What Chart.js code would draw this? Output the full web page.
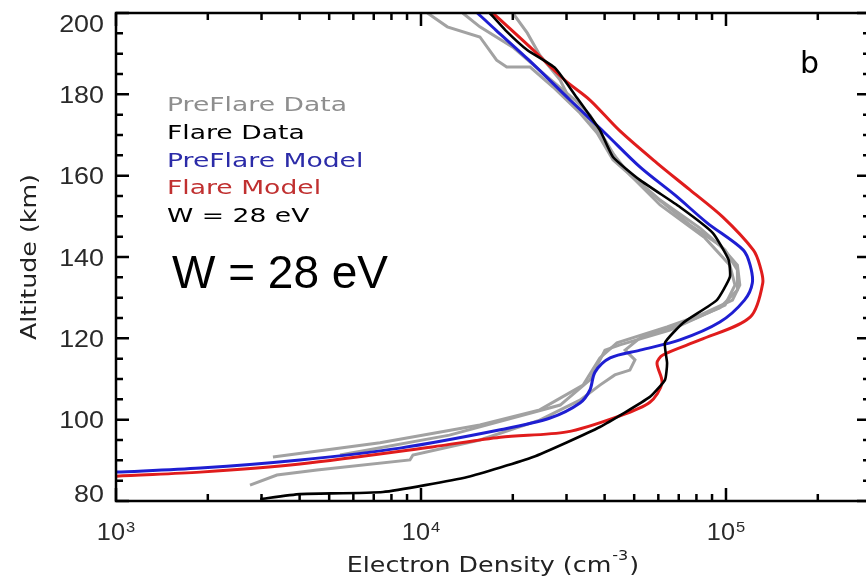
<!DOCTYPE html>
<html>
<head>
<meta charset="utf-8">
<script src="https://cdn.jsdelivr.net/npm/chart.js@4.4.1/dist/chart.umd.min.js"></script>
<style>
  html, body { margin: 0; padding: 0; background: #fff; overflow: hidden; }
  #wrap { width: 874px; height: 580px; }
</style>
</head>
<body>
<div id="wrap"><canvas id="chart" width="874" height="580"></canvas></div>
<script>
// electron density (cm^-3) vs altitude (km)
const preFlareModelDensity = [886, 1000, 1890, 4010, 8530, 18200, 26500, 33200, 35800, 37200, 41700, 52300, 70600, 95500, 115000, 122000, 120000, 114000, 86700, 68100, 52300, 40100, 30800, 22600, 17600, 15300, 14500];
const preFlareModelAltitude = [86.9, 87.1, 88.1, 90.1, 93.0, 97.5, 100.4, 104.1, 107.3, 111.7, 115.2, 117.1, 119.6, 124.0, 129.4, 133.6, 138.0, 141.7, 148.4, 155.2, 162.1, 170.5, 178.6, 188.4, 195.8, 200.0, 201.5];

const flareModelDensity = [886, 1000, 1890, 4010, 10900, 18200, 30100, 43900, 56300, 61700, 59400, 62100, 82200, 120000, 132000, 129000, 123000, 97700, 76200, 59400, 44900, 35800, 29600, 22800, 17200, 16200];
const flareModelAltitude = [85.7, 86.1, 87.1, 89.1, 93.3, 95.7, 97.0, 100.7, 104.3, 109.0, 113.9, 115.9, 119.6, 125.2, 133.6, 138.0, 141.7, 149.8, 156.5, 163.1, 171.0, 178.6, 183.5, 191.6, 200.0, 201.7];

const flareDataDensity = [2970, 4010, 7500, 14200, 23300, 38600, 56300, 63100, 64100, 63100, 72300, 93300, 103000, 102000, 90600, 70600, 52300, 42600, 38600, 32000, 27500, 22300, 18900, 16800];
const flareDataAltitude = [80.5, 81.7, 82.2, 85.9, 90.8, 98.2, 105.6, 109.8, 113.9, 118.9, 123.8, 129.4, 135.1, 139.3, 145.9, 152.3, 158.9, 164.6, 171.2, 179.8, 186.5, 190.9, 195.8, 200.0];

const preFlareData1Density = [3270, 7340, 15600, 24500, 34000, 38600, 43900, 64100, 82200, 105000, 111000, 109000, 95500, 76200, 55100, 42600, 37800, 33200, 27100, 22800, 19100, 17700, 15600, 12200, 10500];
const preFlareData1Altitude = [90.8, 94.3, 98.7, 102.4, 108.5, 115.2, 118.9, 122.8, 125.7, 129.4, 133.1, 138.0, 142.9, 147.9, 156.5, 163.9, 170.5, 175.4, 181.8, 186.7, 186.7, 188.4, 194.1, 196.6, 200.0];

const preFlareData2Density = [2750, 3370, 4560, 9200, 9410, 15600, 24500, 33200, 38600, 43200, 48400, 50300, 46700, 52300, 70600, 95500, 109000, 109000, 99300, 82200, 60800, 44900, 40100, 35800, 32000, 25500, 20000, 15600, 13700];
const preFlareData2Altitude = [83.9, 86.4, 87.6, 90.1, 91.3, 95.0, 99.9, 104.8, 108.5, 111.0, 112.2, 114.7, 117.1, 120.1, 123.3, 127.5, 131.9, 136.8, 141.7, 147.1, 154.0, 162.6, 168.8, 174.9, 178.6, 184.8, 191.6, 196.6, 200.0];

const preFlareData3Density = [5430, 12400, 28600, 35800, 40100, 44900, 65500, 99300, 107000, 103000, 85300, 60800, 48400, 41700, 35800, 30800, 28600, 24500, 22300, 20000];
const preFlareData3Altitude = [91.3, 96.2, 103.6, 109.8, 117.1, 118.4, 122.0, 128.2, 133.1, 138.0, 144.7, 152.8, 160.2, 166.3, 173.7, 178.6, 183.5, 189.7, 195.1, 200.0];

// axes
const xMin = 1000, xMax = 296600;
const yMin = 80, yMax = 200;
const xMajorTicks = [1e3, 1e4, 1e5];
const xTickExponents = ['3', '4', '5'];
const yMajorTicks = [80, 100, 120, 140, 160, 180, 200];
const yMinorStep = 5;

// in-plot annotation text
const legendLabels = ['PreFlare Data', 'Flare Data', 'PreFlare Model', 'Flare Model', 'W = 28 eV'];
const legendColors = ['#8e8e8e', '#000000', '#2b2ba8', '#c03030', '#000000'];

const GRAY = '#a2a2a2', BLACK = '#000000', BLUE = '#1e1ed2', RED = '#e01c1c';

function toPoints(xs, ys) {
    return xs.map((x, i) => ({ x: x, y: ys[i] }));
}

function drawText(ctx, text, x, y, font, color, align, scaleX) {
    ctx.save();
    ctx.font = font;
    ctx.fillStyle = color;
    ctx.textAlign = 'left';
    ctx.textBaseline = 'alphabetic';
    const w = ctx.measureText(text).width * scaleX;
    let x0 = x;
    if (align === 'right') x0 = x - w;
    else if (align === 'center') x0 = x - w / 2;
    ctx.translate(x0, y);
    ctx.scale(scaleX, 1);
    ctx.fillText(text, 0, 0);
    ctx.restore();
    return w;
}

function textWidth(ctx, text, font, scaleX) {
    ctx.save();
    ctx.font = font;
    const w = ctx.measureText(text).width * scaleX;
    ctx.restore();
    return w;
}

const framePlugin = {
    id: 'frame',
    afterDraw(chart) {
        const ctx = chart.ctx;
        const a = chart.chartArea;
        const xs = chart.scales.x, ys = chart.scales.y;

        ctx.save();
        ctx.strokeStyle = '#000';
        ctx.lineWidth = 2.5;
        ctx.strokeRect(a.left, a.top, a.right - a.left, a.bottom - a.top);

        ctx.beginPath();
        // y ticks, left and right
        for (let v = yMin; v <= yMax; v += yMinorStep) {
            const py = ys.getPixelForValue(v);
            const len = (v % 20 === 0) ? 13 : 7;
            ctx.moveTo(a.left, py); ctx.lineTo(a.left + len, py);
            ctx.moveTo(a.right, py); ctx.lineTo(a.right - len, py);
        }
        // x ticks, bottom and top
        for (let d = 1e3; d <= xMax; d *= 10) {
            for (let m = 1; m <= 9; m++) {
                const v = d * m;
                if (v < xMin || v > xMax) continue;
                const px = xs.getPixelForValue(v);
                const len = (m === 1) ? 13 : 7;
                ctx.moveTo(px, a.bottom); ctx.lineTo(px, a.bottom - len);
                ctx.moveTo(px, a.top); ctx.lineTo(px, a.top + len);
            }
        }
        ctx.stroke();
        ctx.restore();

        const tickFont = '24px "Liberation Sans", Arial, sans-serif';
        yMajorTicks.forEach(v => {
            let cy = ys.getPixelForValue(v);
            cy = Math.min(Math.max(cy, 23), 493);
            drawText(ctx, String(v), 104, cy + 8.5, tickFont, '#2a2a2a', 'right', 1.12);
        });

        const baseFont = '23px "Liberation Sans", Arial, sans-serif';
        const expFont = '15px "Liberation Sans", Arial, sans-serif';
        xMajorTicks.forEach((v, i) => {
            const px = xs.getPixelForValue(v);
            const wb = textWidth(ctx, '10', baseFont, 1.1);
            const we = textWidth(ctx, xTickExponents[i], expFont, 1.1);
            const x0 = px - (wb + we + 1) / 2;
            drawText(ctx, '10', x0, 540, baseFont, '#2a2a2a', 'left', 1.1);
            drawText(ctx, xTickExponents[i], x0 + wb + 1, 532, expFont, '#2a2a2a', 'left', 1.1);
        });

        // axis titles
        const titleFont = '22px "DejaVu Sans", sans-serif';
        const tScale = 1.15;
        const t1 = 'Electron Density (cm', t2 = '-3', t3 = ')';
        const supFont = '14px "DejaVu Sans", sans-serif';
        const w1 = textWidth(ctx, t1, titleFont, tScale);
        const w2 = textWidth(ctx, t2, supFont, tScale);
        const w3 = textWidth(ctx, t3, titleFont, tScale);
        let tx = 492 - (w1 + w2 + w3) / 2;
        drawText(ctx, t1, tx, 572, titleFont, '#222', 'left', tScale);
        drawText(ctx, t2, tx + w1 + 1, 560, supFont, '#222', 'left', tScale);
        drawText(ctx, t3, tx + w1 + w2 + 2, 572, titleFont, '#222', 'left', tScale);

        ctx.save();
        ctx.translate(36, (a.top + a.bottom) / 2);
        ctx.rotate(-Math.PI / 2);
        drawText(ctx, 'Altitude (km)', 0, 0, titleFont, '#222', 'center', tScale);
        ctx.restore();

        // annotations inside the plot
        const legFont = '20px "DejaVu Sans", sans-serif';
        legendLabels.forEach((t, i) => {
            drawText(ctx, t, 167, 111 + i * 27.8, legFont, legendColors[i], 'left', 1.33);
        });
        drawText(ctx, 'W = 28 eV', 172, 288, '46px "Liberation Sans", Arial, sans-serif', '#000', 'left', 1.0);
        drawText(ctx, 'b', 800, 73, '30px "DejaVu Sans", sans-serif', '#000', 'left', 1.0);
    }
};

function lineSet(label, xs, ys, color, width, tension, order) {
    return {
        label: label,
        data: toPoints(xs, ys),
        showLine: true,
        borderColor: color,
        backgroundColor: color,
        borderWidth: width,
        pointRadius: 0,
        tension: tension,
        order: order
    };
}

new Chart(document.getElementById('chart'), {
    type: 'scatter',
    data: {
        datasets: [
            lineSet('PreFlare Data', preFlareData1Density, preFlareData1Altitude, GRAY, 3, 0, 5),
            lineSet('PreFlare Data 2', preFlareData2Density, preFlareData2Altitude, GRAY, 3, 0, 5),
            lineSet('PreFlare Data 3', preFlareData3Density, preFlareData3Altitude, GRAY, 3, 0, 5),
            lineSet('PreFlare Model', preFlareModelDensity, preFlareModelAltitude, BLUE, 3, 0.3, 3),
            lineSet('Flare Model', flareModelDensity, flareModelAltitude, RED, 3, 0.3, 2),
            lineSet('Flare Data', flareDataDensity, flareDataAltitude, BLACK, 2.6, 0.15, 1)
        ]
    },
    options: {
        responsive: false,
        animation: false,
        layout: { padding: { left: 0, right: 4, top: 13, bottom: 0 } },
        scales: {
            x: {
                type: 'logarithmic',
                min: xMin,
                max: xMax,
                grid: { display: false },
                border: { display: false },
                ticks: { display: false },
                afterFit: (scale) => { scale.height = 79; }
            },
            y: {
                type: 'linear',
                min: yMin,
                max: yMax,
                grid: { display: false },
                border: { display: false },
                ticks: { display: false },
                afterFit: (scale) => { scale.width = 116; }
            }
        },
        plugins: {
            legend: { display: false },
            tooltip: { enabled: false }
        }
    },
    plugins: [framePlugin]
});
</script>
</body>
</html>
